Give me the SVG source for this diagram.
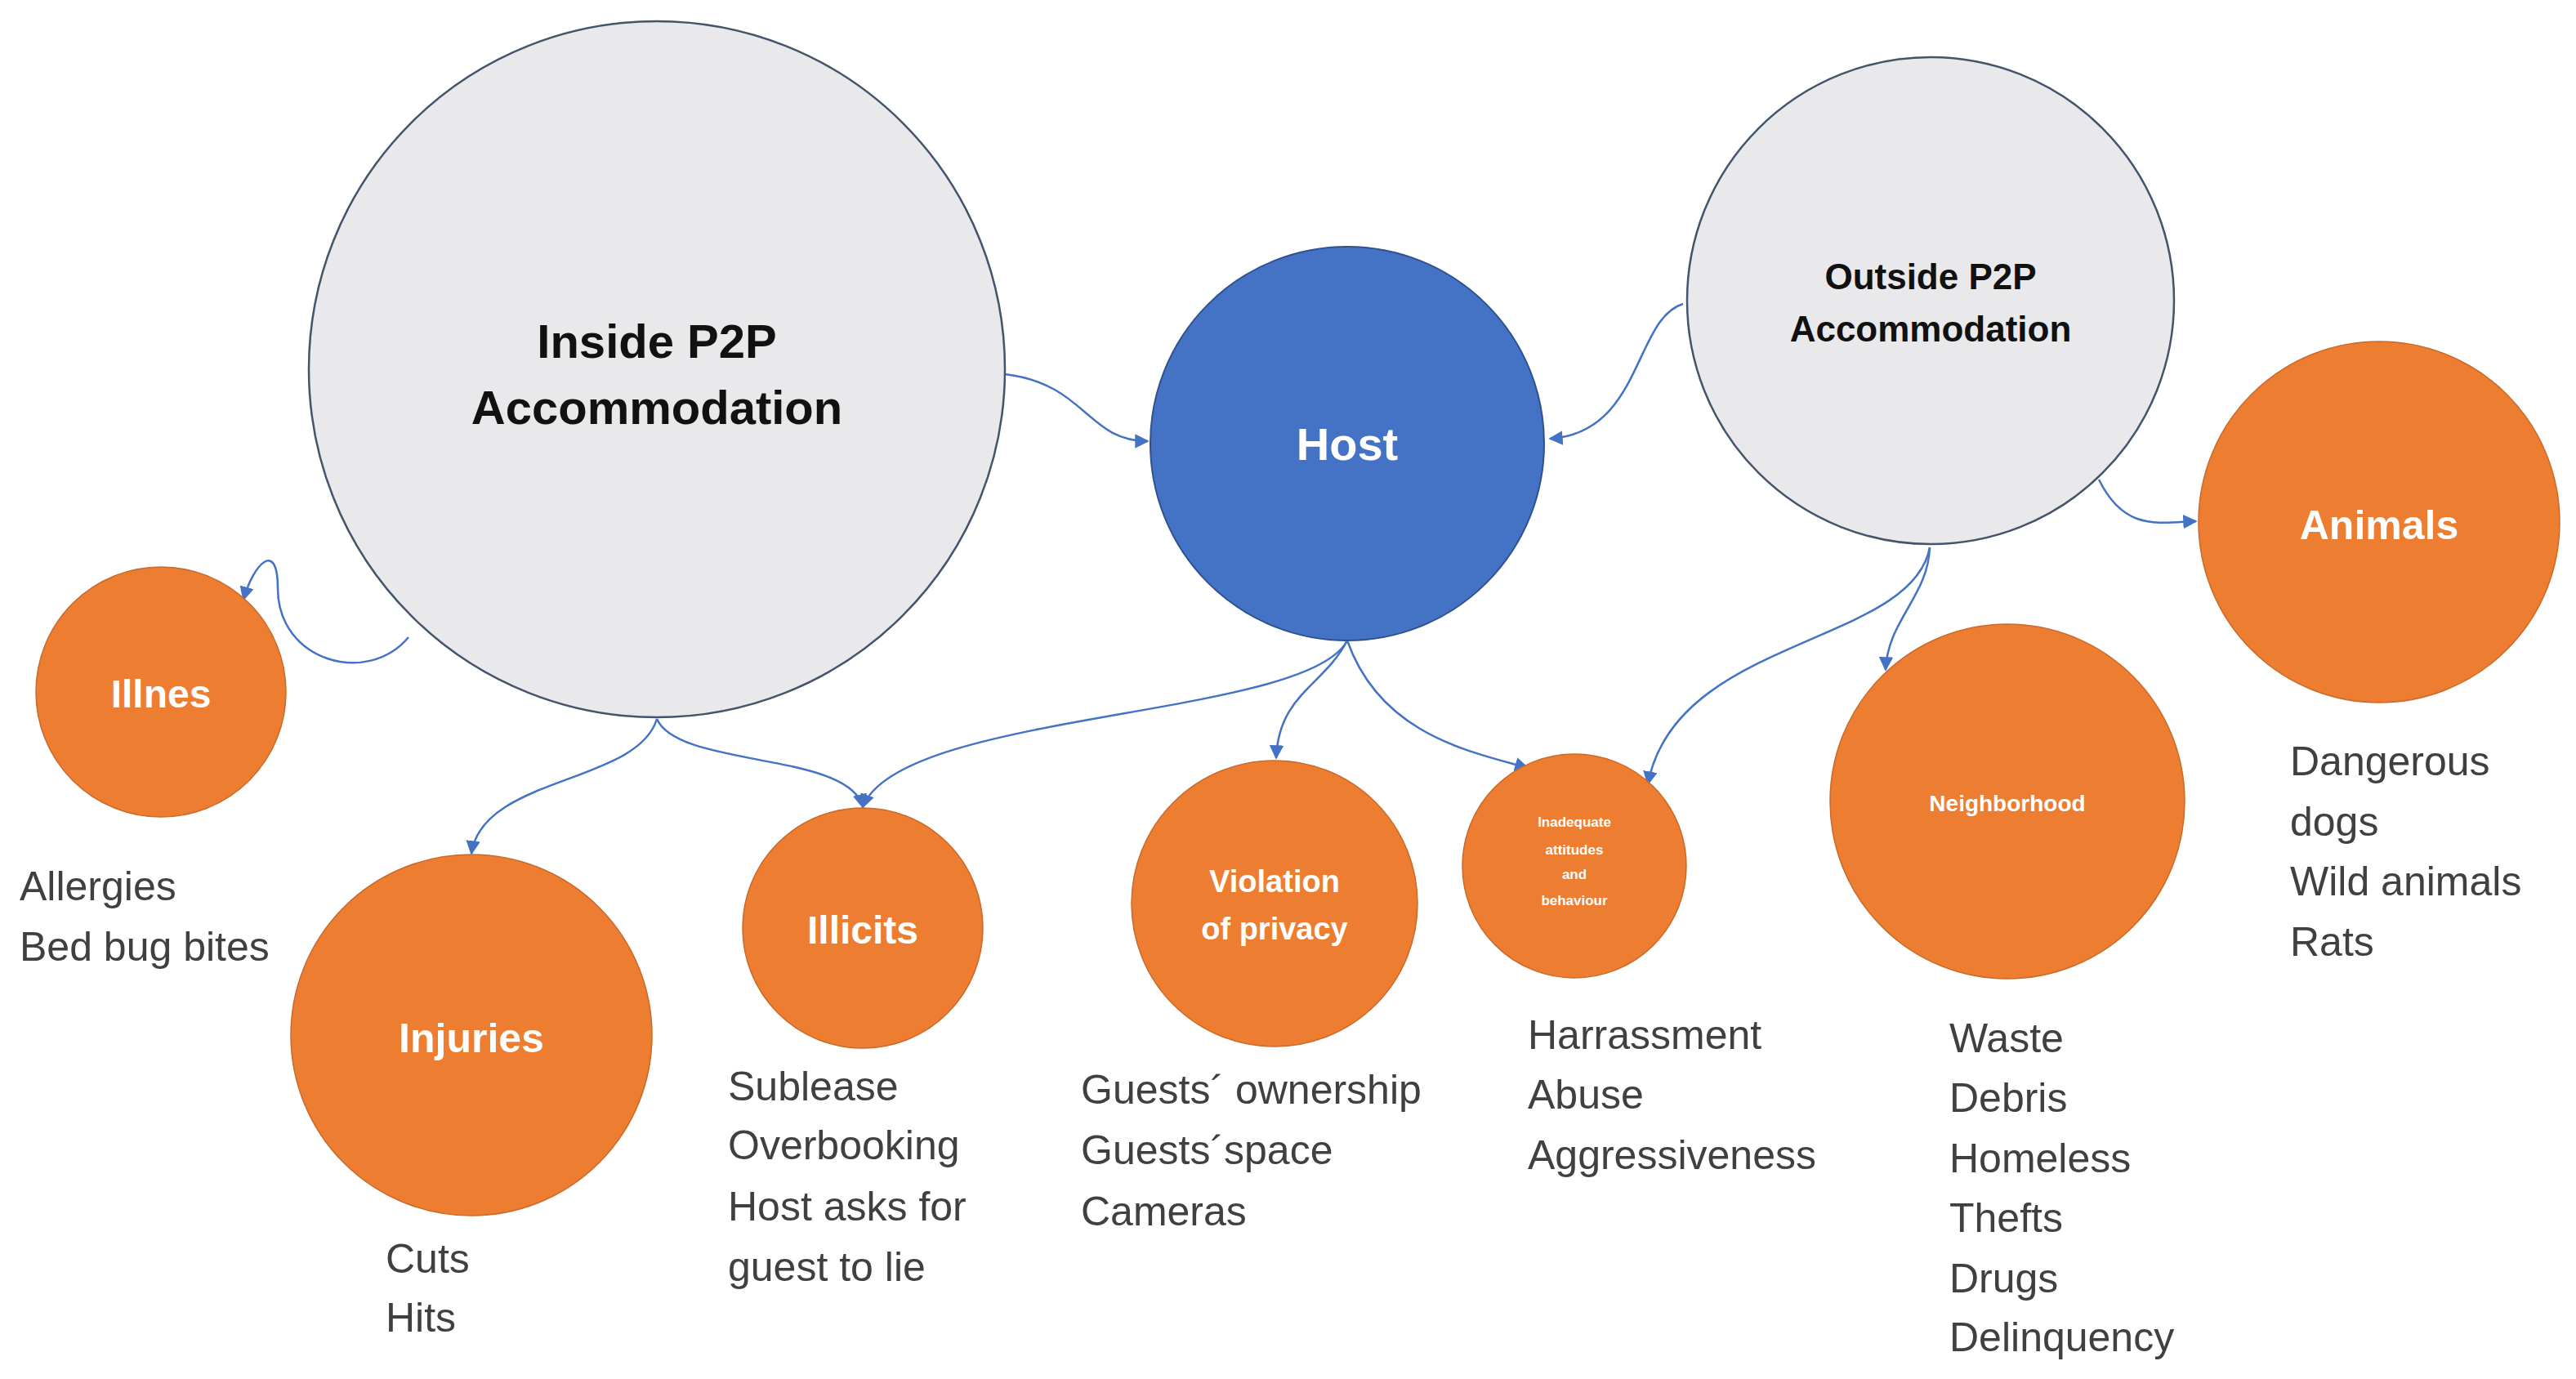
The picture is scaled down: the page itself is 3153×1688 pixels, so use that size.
<svg xmlns="http://www.w3.org/2000/svg" width="3153" height="1688" viewBox="0 0 3153 1688">
<defs>
<marker id="ah" viewBox="0 0 10 10" refX="9" refY="5" markerWidth="7" markerHeight="7" orient="auto"><path d="M0,0 L10,5 L0,10 z" fill="#4472c4"/></marker>
<style>
.g{fill:#e9e9ec;stroke:#44546a;stroke-width:2.5}
.o{fill:#ed7d31;stroke:#c96a2a;stroke-width:1.5}
.h{fill:#4472c4;stroke:#2f528f;stroke-width:2}
.c{fill:none;stroke:#4472c4;stroke-width:2.5;marker-end:url(#ah)}
text{font-family:"Liberation Sans",Arial,sans-serif}
.t{font-weight:bold;fill:#111;text-anchor:middle}
.w{font-weight:bold;fill:#fff;text-anchor:middle}
.b{font-size:50px;fill:#404040}
</style>
</defs>
<rect width="3153" height="1688" fill="#fff"/>
<g id="connectors">
<path class="c" d="M1230,458 C1330,470 1330,540 1405,540"/>
<path class="c" d="M2060,372 C2000,390 2010,530 1897,537"/>
<path class="c" d="M2569,587 C2600,650 2640,640 2688,638"/>
<path class="c" d="M2362,670 C2360,730 2310,760 2308,820"/>
<path class="c" d="M2362,670 C2340,790 2050,780 2017,960"/>
<path class="c" d="M1649,784 C1600,880 1100,870 1056,988"/>
<path class="c" d="M1649,784 C1620,840 1565,850 1562,928"/>
<path class="c" d="M1649,784 C1690,900 1800,920 1870,940"/>
<path class="c" d="M804,880 C780,960 590,950 577,1045"/>
<path class="c" d="M804,880 C830,940 1040,920 1056,988"/>
<path class="c" d="M500,780 C450,840 340,810 340,720 C340,660 310,690 298,734"/>
</g>
<g id="inside"><circle class="g" cx="804" cy="452" r="426"/>
<text class="t" x="804" y="438" font-size="58">Inside P2P</text><text class="t" x="804" y="519" font-size="58">Accommodation</text></g>
<g id="host"><circle class="h" cx="1649" cy="543" r="241"/><text class="w" x="1649" y="563" font-size="56">Host</text></g>
<g id="outside"><circle class="g" cx="2363" cy="368" r="298"/>
<text class="t" x="2363" y="354" font-size="44">Outside P2P</text><text class="t" x="2363" y="418" font-size="44">Accommodation</text></g>
<g id="animals"><circle class="o" cx="2912" cy="639" r="221"/><text class="w" x="2912" y="660" font-size="50">Animals</text></g>
<g id="illnes"><circle class="o" cx="197" cy="847" r="153"/><text class="w" x="197" y="866" font-size="48">Illnes</text></g>
<g id="injuries"><circle class="o" cx="577" cy="1267" r="221"/><text class="w" x="577" y="1288" font-size="50">Injuries</text></g>
<g id="illicits"><circle class="o" cx="1056" cy="1136" r="147"/><text class="w" x="1056" y="1155" font-size="48">Illicits</text></g>
<g id="privacy"><circle class="o" cx="1560" cy="1106" r="175"/>
<text class="w" x="1560" y="1092" font-size="38">Violation</text><text class="w" x="1560" y="1150" font-size="38">of privacy</text></g>
<g id="behaviour"><circle class="o" cx="1927" cy="1060" r="137"/>
<text class="w" x="1927" y="1012" font-size="17">Inadequate</text><text class="w" x="1927" y="1046" font-size="17">attitudes</text><text class="w" x="1927" y="1076" font-size="17">and</text><text class="w" x="1927" y="1108" font-size="17">behaviour</text></g>
<g id="neighborhood"><circle class="o" cx="2457" cy="981" r="217"/><text class="w" x="2457" y="993" font-size="28">Neighborhood</text></g>
<g id="labels">
<text class="b" x="24" y="1102">Allergies</text><text class="b" x="24" y="1176">Bed bug bites</text>
<text class="b" x="472" y="1558">Cuts</text><text class="b" x="472" y="1630">Hits</text>
<text class="b" x="891" y="1347">Sublease</text><text class="b" x="891" y="1419">Overbooking</text><text class="b" x="891" y="1494">Host  asks  for</text><text class="b" x="891" y="1568">guest to lie</text>
<text class="b" x="1323" y="1351">Guests´ ownership</text><text class="b" x="1323" y="1425">Guests´space</text><text class="b" x="1323" y="1500">Cameras</text>
<text class="b" x="1870" y="1284">Harrassment</text><text class="b" x="1870" y="1357">Abuse</text><text class="b" x="1870" y="1431">Aggressiveness</text>
<text class="b" x="2386" y="1288">Waste</text><text class="b" x="2386" y="1361">Debris</text><text class="b" x="2386" y="1435">Homeless</text><text class="b" x="2386" y="1508">Thefts</text><text class="b" x="2386" y="1582">Drugs</text><text class="b" x="2386" y="1654">Delinquency</text>
<text class="b" x="2803" y="949">Dangerous</text><text class="b" x="2803" y="1023">dogs</text><text class="b" x="2803" y="1096">Wild animals</text><text class="b" x="2803" y="1170">Rats</text>
</g>
</svg>
